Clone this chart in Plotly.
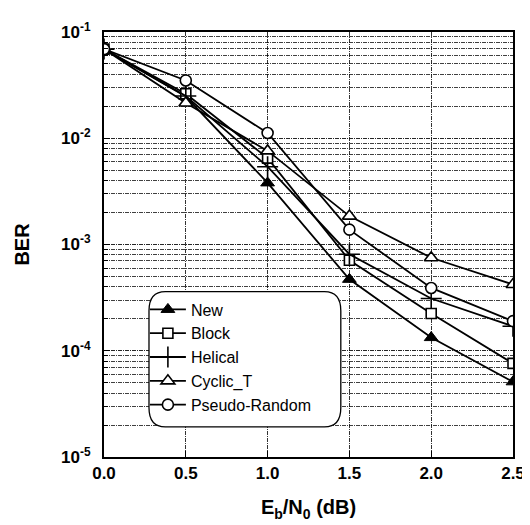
import plotly.graph_objects as go

ebn0 = [0.0, 0.5, 1.0, 1.5, 2.0, 2.5]
ber_new = [0.069, 0.0247, 0.0038, 0.00047, 0.000133, 0.000051]
ber_block = [0.069, 0.0262, 0.0065, 0.00071, 0.000224, 0.000076]
ber_helical = [0.069, 0.0250, 0.0054, 0.00081, 0.00031, 0.00017]
ber_cyclic = [0.069, 0.0215, 0.0076, 0.00185, 0.00075, 0.00042]
ber_pseudo = [0.069, 0.0350, 0.0112, 0.00138, 0.00039, 0.00019]

series_names = ["New", "Block", "Helical", "Cyclic_T", "Pseudo-Random"]
x_ticks = [0.0, 0.5, 1.0, 1.5, 2.0, 2.5]
x_ticktext = ["0.0", "0.5", "1.0", "1.5", "2.0", "2.5"]
y_ticks = [1e-1, 1e-2, 1e-3, 1e-4, 1e-5]
y_ticktext = ["10<sup>-1</sup>", "10<sup>-2</sup>", "10<sup>-3</sup>", "10<sup>-4</sup>", "10<sup>-5</sup>"]

styles = [
    dict(symbol="triangle-up", size=12, color="black", line=dict(color="black", width=1)),
    dict(symbol="square", size=10, color="white", line=dict(color="black", width=1.6)),
    dict(symbol="cross-thin", size=15, color="black", line=dict(color="black", width=1.6)),
    dict(symbol="triangle-up", size=12, color="white", line=dict(color="black", width=1.6)),
    dict(symbol="circle", size=11, color="white", line=dict(color="black", width=1.6)),
]
all_y = [ber_new, ber_block, ber_helical, ber_cyclic, ber_pseudo]

fig = go.Figure()
for i, (name, ys, st) in enumerate(zip(series_names, all_y, styles)):
    fig.add_trace(go.Scatter(
        x=ebn0, y=ys, name=name, mode="lines+markers",
        line=dict(color="black", width=1.8),
        marker=st,
    ))

minor_vals = []
for e in range(-5, -1):
    for k in range(2, 10):
        minor_vals.append(k * 10 ** e)

font_family = "Liberation Sans"
grid_dash = "4px,1px,1px,1px"

fig.update_layout(
    width=530, height=525,
    margin=dict(l=96, r=25, t=14, b=76),
    paper_bgcolor="white", plot_bgcolor="white",
    font=dict(family=font_family, color="black"),
    showlegend=True,
    legend=dict(
        x=0.1, y=0.387, xanchor="left", yanchor="top",
        bgcolor="rgba(0,0,0,0)", borderwidth=0,
        font=dict(size=16, family=font_family, color="black"),
        itemwidth=36,
    ),
    xaxis=dict(
        range=[0, 2.5], tickmode="array", tickvals=x_ticks, ticktext=x_ticktext,
        showline=True, linecolor="black", linewidth=2, mirror=True,
        ticks="inside", ticklen=6, tickcolor="black",
        showgrid=True, gridcolor="rgba(0,0,0,0.8)", griddash=grid_dash, gridwidth=1,
        tickfont=dict(size=17, family=font_family, weight="bold"),
        title=dict(text="E<sub>b</sub>/N<sub>0</sub> (dB)", font=dict(size=20, weight="bold"), standoff=18),
        zeroline=False,
    ),
    yaxis=dict(
        type="log", range=[-5, -1], tickmode="array", tickvals=y_ticks, ticktext=y_ticktext,
        showline=True, linecolor="black", linewidth=2, mirror=True,
        ticks="inside", ticklen=6, tickcolor="black",
        ticklabelstandoff=8,
        showgrid=True, gridcolor="rgba(0,0,0,0.85)", griddash=grid_dash, gridwidth=1,
        minor=dict(tickmode="array", tickvals=minor_vals, showgrid=True,
                   gridcolor="rgba(0,0,0,0.75)", griddash=grid_dash, gridwidth=1,
                   ticks="inside", ticklen=4, tickcolor="black"),
        tickfont=dict(size=17, family=font_family, weight="bold"),
        title=dict(text="BER", font=dict(size=20, weight="bold"), standoff=26),
        zeroline=False,
    ),
)

# rounded legend frame
x0, x1 = 0.110, 0.579
y0, y1 = 0.071, 0.389
rx, ry = 0.04, 0.045
path = (f"M {x0+rx},{y1} L {x1-rx},{y1} Q {x1},{y1} {x1},{y1-ry} "
        f"L {x1},{y0+ry} Q {x1},{y0} {x1-rx},{y0} L {x0+rx},{y0} "
        f"Q {x0},{y0} {x0},{y0+ry} L {x0},{y1-ry} Q {x0},{y1} {x0+rx},{y1} Z")
fig.add_shape(type="path", path=path, xref="paper", yref="paper",
              fillcolor="white", line=dict(color="black", width=1.3), layer="above")

fig.write_html("out.html")
